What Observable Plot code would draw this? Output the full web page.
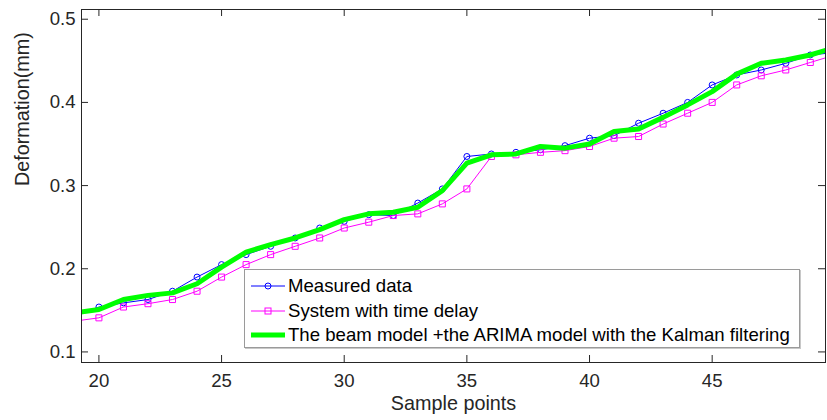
<!DOCTYPE html>
<html>
<head>
<meta charset="utf-8">
<script src="https://cdn.jsdelivr.net/npm/d3@7"></script>
<script src="https://cdn.jsdelivr.net/npm/@observablehq/plot@0.6"></script>
<style>
  body { margin: 0; background: #fff; }
  #wrap { position: relative; width: 827px; height: 420px; font-family: "Liberation Sans", Arial, sans-serif; }
  #legend { position: absolute; left: 244px; top: 269px; width: 556px; height: 79px; background: #fff; border: 1px solid #9a9a9a; box-shadow: 1px 1px 0 #c8c8c8; box-sizing: border-box; }
  .row { position: absolute; left: 0; height: 24px; display: flex; align-items: center; font-size: 18.6px; color: #000; white-space: nowrap; }
  .row svg { margin-left: 6px; margin-right: 3px; }
</style>
</head>
<body>
<div id="wrap"></div>
<script>
const samples = [19,20,21,22,23,24,25,26,27,28,29,30,31,32,33,34,35,36,37,38,39,40,41,42,43,44,45,46,47,48,49,50];
const measured = [0.143,0.154,0.159,0.163,0.173,0.190,0.205,0.217,0.227,0.237,0.249,0.257,0.265,0.264,0.279,0.296,0.335,0.338,0.340,0.343,0.348,0.357,0.360,0.375,0.387,0.400,0.421,0.433,0.439,0.447,0.457,0.460];
const delayed = [0.137,0.141,0.154,0.158,0.163,0.173,0.190,0.205,0.217,0.227,0.237,0.249,0.256,0.264,0.266,0.278,0.296,0.335,0.337,0.340,0.342,0.347,0.357,0.359,0.374,0.387,0.400,0.421,0.432,0.439,0.448,0.457];
const kalman = [0.147,0.151,0.163,0.168,0.171,0.182,0.202,0.220,0.229,0.237,0.247,0.259,0.266,0.268,0.274,0.294,0.327,0.337,0.338,0.347,0.345,0.350,0.365,0.368,0.382,0.397,0.413,0.434,0.447,0.451,0.457,0.466];
const seriesNames = ["Measured data", "System with time delay", "The beam model +the ARIMA model with the Kalman filtering"];
const xTicks = [20,25,30,35,40,45];
const yTicks = [0.1,0.2,0.3,0.4,0.5];
const xLabel = "Sample points";
const yLabel = "Deformation(mm)";

const mk = arr => samples.map((x,i) => ({x, y: arr[i]}));
const dM = mk(measured), dD = mk(delayed), dK = mk(kalman);

const W = 827, H = 420, mL = 81, mR = 2, mT = 9, mB = 58;
const pw = W - mL - mR, ph = H - mT - mB;
const axisColor = "#262626";

const chart = Plot.plot({
  width: W, height: H,
  marginLeft: mL, marginRight: mR, marginTop: mT, marginBottom: mB,
  x: {domain: [19.29, 49.62]},
  y: {domain: [0.0873, 0.5117]},
  style: {fontFamily: "'Liberation Sans', Arial, sans-serif", fontSize: "18.6px", color: axisColor, background: "#fff"},
  marks: [
    Plot.line(dM, {x: "x", y: "y", stroke: "#0000ff", strokeWidth: 1, clip: true}),
    Plot.dot(dM, {x: "x", y: "y", stroke: "#0000ff", fill: "none", r: 3, strokeWidth: 1, clip: true}),
    Plot.line(dD, {x: "x", y: "y", stroke: "#ff00ff", strokeWidth: 1, clip: true}),
    Plot.dot(dD, {x: "x", y: "y", symbol: "square", stroke: "#ff00ff", fill: "none", r: 3.4, strokeWidth: 1, clip: true}),
    Plot.line(dK, {x: "x", y: "y", stroke: "#00ff00", strokeWidth: 5, clip: true}),
    Plot.frame({stroke: axisColor, strokeWidth: 1}),
    Plot.tickX(xTicks, {x: d => d, insetTop: ph - 7, stroke: axisColor}),
    Plot.tickX(xTicks, {x: d => d, insetBottom: ph - 7, stroke: axisColor}),
    Plot.tickY(yTicks, {y: d => d, insetRight: pw - 7, stroke: axisColor}),
    Plot.tickY(yTicks, {y: d => d, insetLeft: pw - 7, stroke: axisColor}),
    Plot.axisX(xTicks, {tickSize: 0, tickPadding: 11, label: null, fontSize: 18.6}),
    Plot.axisY(yTicks, {tickSize: 0, tickPadding: 6, label: null, fontSize: 18.6, tickFormat: d => d.toFixed(1)}),
    Plot.text([xLabel], {text: d => d, frameAnchor: "bottom", dy: 47, fontSize: 19.8, fill: axisColor}),
    Plot.text([yLabel], {text: d => d, frameAnchor: "left", dx: -59, rotate: -90, fontSize: 19.8, fill: axisColor})
  ]
});

const wrap = document.getElementById("wrap");
wrap.appendChild(chart);

const legend = document.createElement("div");
legend.id = "legend";
const styles = [
  {stroke: "#0000ff", w: 1, marker: "circle"},
  {stroke: "#ff00ff", w: 1, marker: "square"},
  {stroke: "#00ff00", w: 5, marker: null}
];
seriesNames.forEach((name, i) => {
  const row = document.createElement("div");
  row.className = "row";
  row.style.top = (4 + i * 24.5) + "px";
  const s = styles[i];
  let mark = "";
  if (s.marker === "circle") mark = `<circle cx="17" cy="10" r="3" fill="none" stroke="${s.stroke}"/>`;
  if (s.marker === "square") mark = `<rect x="14" y="7" width="6" height="6" fill="none" stroke="${s.stroke}"/>`;
  row.innerHTML = `<svg width="34" height="20"><line x1="0" x2="34" y1="10" y2="10" stroke="${s.stroke}" stroke-width="${s.w}"/>${mark}</svg><span>${name}</span>`;
  legend.appendChild(row);
});
wrap.appendChild(legend);
</script>
</body>
</html>
